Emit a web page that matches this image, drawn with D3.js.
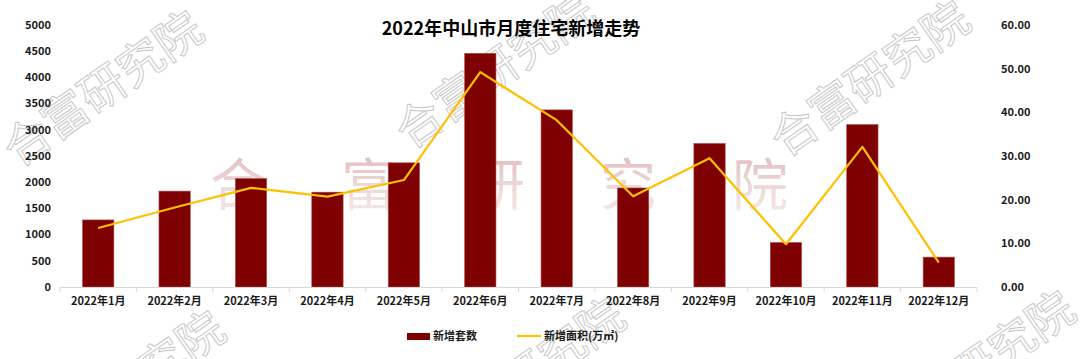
<!DOCTYPE html>
<html>
<head>
<meta charset="utf-8">
<script src="https://cdn.jsdelivr.net/npm/d3@7"></script>
<style>
  html, body { margin: 0; padding: 0; background: #fff; }
  svg text { font-family: "Noto Sans CJK SC", "Noto Sans", sans-serif; }
</style>
</head>
<body>
<div id="chart"></div>
<script>
const months = ["2022年1月", "2022年2月", "2022年3月", "2022年4月", "2022年5月", "2022年6月",
    "2022年7月", "2022年8月", "2022年9月", "2022年10月", "2022年11月", "2022年12月"];
const units = [1280, 1830, 2070, 1810, 2370, 4460, 3380, 1890, 2740, 850, 3100, 570];
const area = [13.5, 18.2, 22.7, 20.7, 24.5, 49.2, 38.2, 20.8, 29.5, 9.8, 32.1, 5.6];
const leftTicks = [0, 500, 1000, 1500, 2000, 2500, 3000, 3500, 4000, 4500, 5000];
const rightTicks = [0, 10, 20, 30, 40, 50, 60];
const title = "2022年中山市月度住宅新增走势";
const seriesNames = ["新增套数", "新增面积(万㎡)"];
const watermark = "合富研究院";

const width = 1080;
const height = 359;
const margin = { top: 25, right: 103, bottom: 72, left: 60 };

const barColor = "#7f0000";
const lineColor = "#ffc000";

const svg = d3.select("#chart").append("svg")
    .attr("width", width)
    .attr("height", height);

// watermark layer
const wm = svg.append("g").attr("class", "watermark");

const defs = svg.append("defs");
const grad = defs.append("linearGradient")
    .attr("id", "wmfade")
    .attr("x1", 0).attr("y1", 0).attr("x2", 0).attr("y2", 1);
grad.append("stop").attr("offset", "0%").attr("stop-color", "#c47e7e").attr("stop-opacity", 0.6);
grad.append("stop").attr("offset", "100%").attr("stop-color", "#e6c8c8").attr("stop-opacity", 0.35);

// big faded characters across the middle
const bigX = [238, 369, 497, 628, 760];
wm.selectAll("text.big")
    .data(watermark.split(""))
    .enter()
    .append("text")
    .attr("class", "big")
    .attr("x", (d, i) => bigX[i])
    .attr("y", 205)
    .attr("text-anchor", "middle")
    .attr("font-size", "56px")
    .attr("fill", "url(#wmfade)")
    .text(d => d);

// outlined diagonal stamps
const stamps = [[18, 168], [410, 150], [785, 158], [40, 468], [440, 455], [890, 448]];
wm.selectAll("text.stamp")
    .data(stamps)
    .enter()
    .append("text")
    .attr("class", "stamp")
    .attr("transform", d => `translate(${d[0]},${d[1]}) rotate(-35)`)
    .attr("font-size", "46px")
    .attr("fill", "none")
    .attr("stroke", "#c8c8c8")
    .attr("stroke-width", 1)
    .text(watermark);

const x = d3.scaleBand()
    .domain(months)
    .range([margin.left, width - margin.right])
    .paddingInner(0.59)
    .paddingOuter(0.295);

const yLeft = d3.scaleLinear()
    .domain([0, 5000])
    .range([height - margin.bottom, margin.top]);

const yRight = d3.scaleLinear()
    .domain([0, 60])
    .range([height - margin.bottom, margin.top]);

// bars
svg.append("g")
    .selectAll("rect")
    .data(units)
    .enter()
    .append("rect")
    .attr("x", (d, i) => x(months[i]))
    .attr("y", d => yLeft(d))
    .attr("width", x.bandwidth())
    .attr("height", d => yLeft(0) - yLeft(d))
    .attr("fill", barColor)
    .attr("stroke", "#b05050")
    .attr("stroke-width", 0.6);

// x axis
const xAxis = svg.append("g")
    .attr("transform", `translate(0,${height - margin.bottom})`);
xAxis.append("line")
    .attr("x1", margin.left).attr("x2", width - margin.right)
    .attr("y1", 0.5).attr("y2", 0.5)
    .attr("stroke", "#d9d9d9");
const step = x.step();
xAxis.selectAll("line.tick")
    .data(d3.range(months.length + 1))
    .enter()
    .append("line")
    .attr("class", "tick")
    .attr("x1", i => margin.left + i * step)
    .attr("x2", i => margin.left + i * step)
    .attr("y1", 0).attr("y2", 5)
    .attr("stroke", "#d9d9d9");
xAxis.selectAll("text")
    .data(months)
    .enter()
    .append("text")
    .attr("x", d => x(d) + x.bandwidth() / 2)
    .attr("y", 18)
    .attr("text-anchor", "middle")
    .attr("font-size", "11px")
    .attr("font-weight", "bold")
    .attr("fill", "#1a1a1a")
    .text(d => d);

// left axis
svg.append("g")
    .selectAll("text")
    .data(leftTicks)
    .enter()
    .append("text")
    .attr("x", 51)
    .attr("y", d => yLeft(d))
    .attr("dy", "0.35em")
    .attr("text-anchor", "end")
    .attr("font-size", "11px")
    .attr("font-weight", "bold")
    .attr("fill", "#1a1a1a")
    .text(d => d);

// right axis
svg.append("g")
    .selectAll("text")
    .data(rightTicks)
    .enter()
    .append("text")
    .attr("x", 1001)
    .attr("y", d => yRight(d))
    .attr("dy", "0.35em")
    .attr("text-anchor", "start")
    .attr("font-size", "11px")
    .attr("font-weight", "bold")
    .attr("fill", "#1a1a1a")
    .text(d => d.toFixed(2));

// line
const line = d3.line()
    .x((d, i) => x(months[i]) + x.bandwidth() / 2)
    .y(d => yRight(d));

svg.append("path")
    .datum(area)
    .attr("d", line)
    .attr("fill", "none")
    .attr("stroke", lineColor)
    .attr("stroke-width", 2.2)
    .attr("stroke-linejoin", "round");

// title
svg.append("text")
    .attr("x", 511)
    .attr("y", 35)
    .attr("text-anchor", "middle")
    .attr("font-size", "18px")
    .attr("font-weight", "bold")
    .attr("fill", "#000")
    .text(title);

// legend
const legend = svg.append("g");
legend.append("rect")
    .attr("x", 407).attr("y", 333)
    .attr("width", 23).attr("height", 7)
    .attr("fill", barColor);
legend.append("text")
    .attr("x", 433).attr("y", 336)
    .attr("dy", "0.35em")
    .attr("font-size", "11px")
    .attr("font-weight", "bold")
    .attr("fill", "#1a1a1a")
    .text(seriesNames[0]);
legend.append("line")
    .attr("x1", 517).attr("x2", 541)
    .attr("y1", 336).attr("y2", 336)
    .attr("stroke", lineColor)
    .attr("stroke-width", 2.2);
legend.append("text")
    .attr("x", 544).attr("y", 336)
    .attr("dy", "0.35em")
    .attr("font-size", "11px")
    .attr("font-weight", "bold")
    .attr("fill", "#1a1a1a")
    .text(seriesNames[1]);
</script>
</body>
</html>
